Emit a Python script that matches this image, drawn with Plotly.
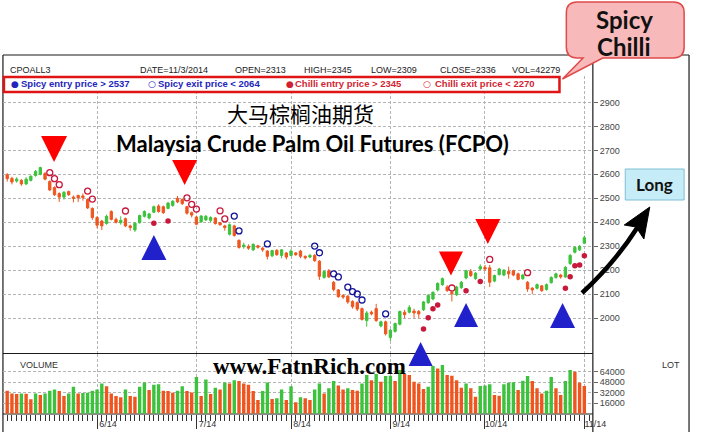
import plotly.graph_objects as go

W, H = 704, 432

# ---------------- data ----------------
opens = [2598, 2583, 2572, 2575, 2560, 2575, 2595, 2600, 2603, 2570,
         2545, 2520, 2505, 2528, 2505, 2512, 2510, 2495, 2458, 2420,
         2405, 2395, 2445, 2412, 2398, 2415, 2385, 2368, 2398, 2425,
         2418, 2442, 2468, 2465, 2458, 2470, 2500, 2495, 2465, 2440,
         2422, 2402, 2410, 2408, 2418, 2398, 2385, 2350, 2385, 2325,
         2298, 2300, 2285, 2302, 2292, 2280, 2260, 2283, 2262, 2272,
         2262, 2272, 2280, 2258, 2255, 2262, 2238, 2170, 2198, 2150,
         2118, 2095, 2092, 2070, 2065, 2040, 1990, 2025, 2040, 1968,
         1985, 1920, 1945, 1975, 2025, 2025, 2030, 2028, 2035, 2065,
         2080, 2118, 2140, 2130, 2108, 2098, 2128, 2168, 2195, 2165,
         2205, 2212, 2210, 2155, 2182, 2180, 2195, 2198, 2185, 2165,
         2150, 2125, 2125, 2135, 2120, 2148, 2170, 2180, 2172, 2228,
         2275, 2285, 2313]
highs = [2605, 2590, 2588, 2580, 2588, 2596, 2618, 2632, 2610, 2575,
         2550, 2525, 2530, 2532, 2512, 2515, 2520, 2500, 2462, 2425,
         2410, 2432, 2450, 2420, 2425, 2420, 2390, 2400, 2432, 2450,
         2440, 2470, 2475, 2470, 2485, 2492, 2510, 2500, 2468, 2445,
         2428, 2430, 2430, 2425, 2422, 2402, 2390, 2395, 2390, 2328,
         2315, 2308, 2312, 2306, 2298, 2284, 2285, 2288, 2288, 2276,
         2288, 2276, 2285, 2262, 2268, 2268, 2242, 2198, 2205, 2155,
         2122, 2100, 2096, 2075, 2070, 2045, 2030, 2032, 2060, 1990,
         1990, 1955, 1982, 2032, 2035, 2055, 2040, 2035, 2072, 2100,
         2112, 2150, 2170, 2138, 2115, 2135, 2155, 2202, 2205, 2192,
         2225, 2222, 2222, 2182, 2210, 2205, 2215, 2202, 2190, 2185,
         2155, 2130, 2145, 2138, 2145, 2175, 2190, 2185, 2218, 2268,
         2300, 2305, 2345]
lows = [2570, 2558, 2565, 2552, 2555, 2570, 2590, 2596, 2575, 2530,
        2510, 2485, 2495, 2510, 2483, 2485, 2490, 2455, 2410, 2375,
        2368, 2390, 2408, 2395, 2390, 2380, 2365, 2360, 2395, 2420,
        2412, 2438, 2440, 2435, 2455, 2465, 2480, 2472, 2432, 2420,
        2388, 2398, 2405, 2400, 2390, 2385, 2365, 2345, 2340, 2290,
        2290, 2285, 2280, 2290, 2277, 2245, 2255, 2260, 2250, 2245,
        2258, 2260, 2250, 2245, 2250, 2235, 2160, 2165, 2168, 2112,
        2085, 2080, 2060, 2040, 2030, 1990, 1965, 2012, 1985, 1962,
        1928, 1905, 1940, 1970, 2000, 2020, 2000, 2000, 2030, 2060,
        2075, 2112, 2135, 2110, 2070, 2092, 2122, 2162, 2172, 2160,
        2200, 2198, 2130, 2150, 2178, 2175, 2165, 2175, 2158, 2160,
        2110, 2100, 2120, 2110, 2115, 2145, 2165, 2165, 2168, 2222,
        2270, 2280, 2309]
closes = [2582, 2568, 2580, 2560, 2580, 2592, 2612, 2628, 2580, 2535,
          2515, 2505, 2525, 2515, 2500, 2502, 2503, 2460, 2420, 2388,
          2385, 2425, 2412, 2400, 2408, 2385, 2378, 2396, 2428, 2445,
          2435, 2465, 2445, 2440, 2480, 2488, 2485, 2478, 2438, 2430,
          2392, 2426, 2425, 2420, 2395, 2390, 2378, 2390, 2345, 2295,
          2305, 2292, 2308, 2296, 2285, 2258, 2282, 2265, 2285, 2255,
          2280, 2265, 2258, 2252, 2262, 2240, 2175, 2195, 2172, 2120,
          2090, 2088, 2068, 2048, 2038, 1995, 2022, 2018, 1990, 1985,
          1935, 1950, 1978, 2028, 2015, 2045, 2022, 2018, 2068, 2095,
          2108, 2145, 2165, 2115, 2102, 2130, 2150, 2198, 2178, 2188,
          2215, 2205, 2150, 2178, 2205, 2200, 2185, 2180, 2162, 2180,
          2122, 2118, 2140, 2115, 2140, 2170, 2185, 2172, 2212, 2262,
          2295, 2300, 2336]
volumes = [35000, 31000, 30000, 31000, 30500, 22000, 31000, 28600, 31000, 35000,
           37000, 34500, 27000, 31000, 41000, 31000, 31500, 32000, 35000, 37000,
           46000, 42000, 31000, 27000, 25000, 37000, 27000, 26000, 41000, 47500,
           36000, 44000, 45000, 35000, 34500, 32000, 35000, 42000, 34500, 32500,
           56000, 27000, 52000, 30000, 39700, 37000, 47500, 46000, 51000, 50000,
           46000, 44000, 34500, 21000, 34500, 47500, 22500, 23500, 37000, 21000,
           42000, 17500, 25000, 23500, 21000, 37000, 46000, 31000, 38700, 50000,
           43000, 37000, 38700, 36200, 35000, 46000, 59000, 51000, 60500, 48800,
           57400, 58000, 50000, 66600, 60500, 59000, 48800, 46000, 37700, 41000,
           72600, 69000, 74000, 59000, 58000, 51000, 39700, 46000, 38700, 26000,
           42200, 43000, 44800, 28600, 27500, 44800, 47300, 48000, 36200, 50300,
           57400, 50000, 38700, 31000, 35000, 56000, 38700, 28600, 50000, 66600,
           64000, 47300, 42279]

month_idx = [19, 40, 60, 81, 101, 122]
month_labels = ["6/14", "7/14", "8/14", "9/14", "10/14", "11/14"]
price_ticks = [2000, 2100, 2200, 2300, 2400, 2500, 2600, 2700, 2800, 2900]
vol_ticks = [16000, 32000, 48000, 64000]

spicy_exit_idx = [48, 49, 55, 65, 66, 69, 70, 72, 73, 74, 75, 80]
spicy_exit_px = [2426, 2364, 2310, 2301, 2273, 2185, 2172, 2130, 2111, 2101, 2076, 2018]
chilli_entry_idx = [31, 34, 88, 89, 90, 91, 97, 100, 118, 119, 120, 121, 122]
chilli_entry_px = [2396, 2405, 1955, 2002, 2040, 2055, 2115, 2153, 2125, 2173, 2219, 2222, 2260]
chilli_exit_idx = [9, 10, 11, 17, 18, 25, 38, 39, 40, 45, 46, 94, 102, 110]
chilli_exit_px = [2607, 2582, 2557, 2530, 2497, 2447, 2502, 2475, 2455, 2448, 2414, 2126, 2245, 2190]

sell_sig_idx = [9.9, 37.5, 93.8, 101.6]
sell_sig_px = [2651, 2555, 2178, 2310]
buy_sig_idx = [31.0, 87.4, 97.0, 117.4]
buy_sig_px = [2347, 1901, 2064, 2064]

# ---------------- styling ----------------
GREEN = "#3cc23c"
ORANGE = "#ef561f"
GRID = "#b4b4b4"
FONT = "Liberation Sans, Arial, sans-serif"


def X(px):
    return px / W


def Y(py):
    return 1 - py / H


def P(px, py):
    return f"{X(px):.5f},{Y(py):.5f}"


idx = list(range(len(closes)))
vol_colors = [ORANGE] + [GREEN if volumes[i] > volumes[i - 1] else ORANGE
                         for i in range(1, len(volumes))]

fig = go.Figure()

fig.add_trace(go.Candlestick(
    x=idx, open=opens, high=highs, low=lows, close=closes,
    increasing=dict(line=dict(color=GREEN, width=1), fillcolor=GREEN),
    decreasing=dict(line=dict(color=ORANGE, width=1), fillcolor=ORANGE),
    whiskerwidth=0, showlegend=False, hoverinfo="skip",
    xaxis="x", yaxis="y"))

fig.add_trace(go.Scatter(
    x=chilli_exit_idx, y=chilli_exit_px, mode="markers", showlegend=False,
    marker=dict(symbol="circle-open", size=6, color="#c8193c", line=dict(width=1.3)),
    xaxis="x", yaxis="y"))
fig.add_trace(go.Scatter(
    x=chilli_entry_idx, y=chilli_entry_px, mode="markers", showlegend=False,
    marker=dict(symbol="circle", size=5.5, color="#c8193c"),
    xaxis="x", yaxis="y"))
fig.add_trace(go.Scatter(
    x=spicy_exit_idx, y=spicy_exit_px, mode="markers", showlegend=False,
    marker=dict(symbol="circle-open", size=6, color="#16169a", line=dict(width=1.3)),
    xaxis="x", yaxis="y"))

fig.add_trace(go.Scatter(
    x=sell_sig_idx, y=sell_sig_px, mode="markers", showlegend=False, cliponaxis=False,
    marker=dict(symbol="arrow-down", size=[26, 25, 24, 25], color="#ff0000", opacity=1,
                line=dict(width=0)),
    xaxis="x", yaxis="y"))
fig.add_trace(go.Scatter(
    x=buy_sig_idx, y=buy_sig_px, mode="markers", showlegend=False, cliponaxis=False,
    marker=dict(symbol="arrow-up", size=[25, 24, 24, 25], color="#2121cc", opacity=1,
                line=dict(width=0)),
    xaxis="x", yaxis="y"))

fig.add_trace(go.Bar(
    x=idx, y=volumes, marker=dict(color=vol_colors, line=dict(width=0)),
    width=0.72, showlegend=False, hoverinfo="skip", xaxis="x2", yaxis="y2"))

xr = [-0.9, 123.8]
xdom = [X(3), X(604)]
tickfont = dict(family=FONT, size=9, color="#444")

fig.update_layout(
    width=W, height=H, margin=dict(l=0, r=0, t=0, b=0, pad=0),
    paper_bgcolor="white", plot_bgcolor="white",
    showlegend=False, hovermode=False,
    xaxis=dict(domain=xdom, range=xr, anchor="y", showticklabels=False, ticks="",
               tickmode="array", tickvals=month_idx, showgrid=True, gridcolor=GRID,
               griddash="3px,2px", gridwidth=1, zeroline=False, showline=False,
               rangeslider=dict(visible=False), fixedrange=True),
    yaxis=dict(domain=[Y(353), Y(76)], range=[1855, 3010], anchor="x", side="right",
               tickmode="array", tickvals=price_ticks, ticks="outside", ticklen=4,
               tickcolor="#666", tickfont=tickfont, showgrid=True, gridcolor=GRID,
               griddash="3px,2px", zeroline=False, showline=False, fixedrange=True),
    xaxis2=dict(domain=xdom, range=xr, anchor="y2", tickmode="array",
                tickvals=month_idx, ticktext=month_labels, ticks="outside", ticklen=14,
                tickcolor="#333", tickfont=dict(family=FONT, size=9, color="#333"),
                ticklabelshift=11, ticklabelstandoff=-13,
                minor=dict(tickmode="linear", tick0=0, dtick=1, ticks="outside",
                           ticklen=6, tickcolor="#333", showgrid=False),
                showgrid=True, gridcolor=GRID, griddash="3px,2px",
                zeroline=False, showline=False, fixedrange=True),
    yaxis2=dict(domain=[Y(413.8), Y(354)], range=[0, 90900], anchor="x2", side="right",
                tickmode="array", tickvals=vol_ticks, tickformat="d", ticks="outside",
                ticklen=4, tickcolor="#666", tickfont=tickfont, showgrid=True,
                gridcolor=GRID, griddash="3px,2px", zeroline=False, showline=False,
                fixedrange=True),
)

LINE = dict(color="#1a1a1a", width=1.2)
shapes = [
    dict(type="line", xref="paper", yref="paper", x0=X(3), x1=X(702), y0=Y(55), y1=Y(55), line=LINE, layer="below"),
    dict(type="line", xref="paper", yref="paper", x0=X(3), x1=X(3), y0=Y(55), y1=Y(440), line=LINE, layer="below"),
    dict(type="line", xref="paper", yref="paper", x0=X(702), x1=X(702), y0=Y(55), y1=Y(440), line=LINE, layer="below"),
    dict(type="line", xref="paper", yref="paper", x0=X(604), x1=X(604), y0=Y(55), y1=Y(440), line=LINE, layer="below"),
    dict(type="line", xref="paper", yref="paper", x0=X(3), x1=X(604), y0=Y(353.5), y1=Y(353.5), line=LINE, layer="below"),
    dict(type="line", xref="paper", yref="paper", x0=X(3), x1=X(604), y0=Y(414), y1=Y(414), line=LINE, layer="below"),
    # legend box
    dict(type="rect", xref="paper", yref="paper", x0=X(4), x1=X(570), y0=Y(92), y1=Y(77),
         line=dict(color="#e01414", width=2.5), fillcolor="white", layer="above"),
    # Spicy Chilli callout
    dict(type="path", xref="paper", yref="paper", layer="above",
         path=("M " + P(588, 2) + " L " + P(686, 2) + " Q " + P(697, 2) + " " + P(697, 13) +
               " L " + P(697, 47) + " Q " + P(697, 58) + " " + P(686, 58) +
               " L " + P(614, 58) + " L " + P(573, 79) + " L " + P(594, 58) +
               " L " + P(588, 58) + " Q " + P(577, 58) + " " + P(577, 47) +
               " L " + P(577, 13) + " Q " + P(577, 2) + " " + P(588, 2) + " Z"),
         fillcolor="#f7b9b9", line=dict(color="#e04a4a", width=1.5)),
    # Long box
    dict(type="rect", xref="paper", yref="paper", x0=X(637), x1=X(697), y0=Y(200), y1=Y(169),
         fillcolor="#c6ecf7", line=dict(color="#7fbfd3", width=1), layer="above"),
    # arrow
    dict(type="path", xref="paper", yref="paper", layer="above",
         path="M " + P(593, 293) + " Q " + P(627, 262) + " " + P(649, 228),
         line=dict(color="black", width=4.5)),
    dict(type="path", xref="paper", yref="paper", layer="above",
         path=("M " + P(662, 207) + " L " + P(636, 225) + " L " + P(648, 227) +
               " L " + P(656, 239) + " Z"),
         fillcolor="black", line=dict(color="black", width=1)),
]
fig.update_layout(shapes=shapes)

annotations = []


def ann(text, x, y, size=9, color="#222", xanchor="left", family=FONT):
    annotations.append(dict(text=text, x=X(x), y=Y(y), xref="paper", yref="paper",
                            xanchor=xanchor, yanchor="middle", showarrow=False,
                            font=dict(family=family, size=size, color=color)))


# header
for t, x in [("CPOALL3", 8), ("DATE=11/3/2014", 141), ("OPEN=2313", 237), ("HIGH=2345", 308),
             ("LOW=2309", 376), ("CLOSE=2336", 446), ("VOL=42279", 520)]:
    ann(t, x, 70, 9, "#222")

BLUE_T = "#2424bb"
RED_T = "#d21f34"
ann("●", 15, 84, 9, BLUE_T, "center", "DejaVu Sans")
ann("<b>Spicy entry price &gt; 2537</b>", 19, 84, 9.5, BLUE_T)
ann("○", 155, 84, 9, BLUE_T, "center", "DejaVu Sans")
ann("<b>Spicy exit price &lt; 2064</b>", 159, 84, 9.5, BLUE_T)
ann("●", 295, 84, 9, RED_T, "center", "DejaVu Sans")
ann("<b>Chilli entry price &gt; 2345</b>", 299, 84, 9.5, RED_T)
ann("○", 435, 84, 9, RED_T, "center", "DejaVu Sans")
ann("<b>Chilli exit price &lt; 2270</b>", 441, 84, 9.5, RED_T)

ann("大马棕榈油期货", 306, 113, 21, "black", "center", "Noto Sans CJK SC")
ann("<b>Malaysia Crude Palm Oil Futures (FCPO)</b>", 318, 143, 22, "black", "center", "Lato")
ann("<b>www.FatnRich.com</b>", 315, 366, 23, "black", "center", "Liberation Serif")

ann("VOLUME", 18, 365, 9, "#333")
ann("LOT", 672, 365, 9, "#333")

ann("<b>Spicy</b>", 636, 20, 24, "#111", "center", "Lato")
ann("<b>Chilli</b>", 636, 47, 24, "#111", "center", "Lato")
ann("<b>Long</b>", 667, 185, 17, "#111", "center", "Lato")

fig.update_layout(annotations=annotations)

fig.write_html("out.html", config={"displayModeBar": False},
               post_script="document.body.style.margin='0';")
